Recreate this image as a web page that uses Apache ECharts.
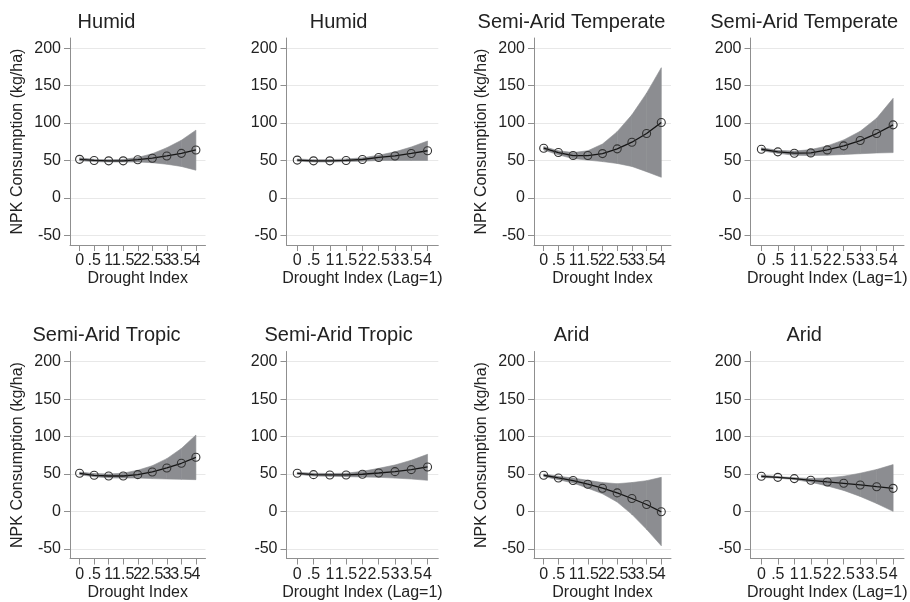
<!DOCTYPE html>
<html>
<head>
<meta charset="utf-8">
<script src="https://cdn.jsdelivr.net/npm/echarts@6/dist/echarts.min.js"></script>
<style>
  html, body { margin: 0; padding: 0; background: #fff; }
  #chart { width: 910px; height: 602px; }
</style>
</head>
<body>
<div id="chart"></div>
<script>
// drought index steps and tick labels
var xs = [0, 0.5, 1, 1.5, 2, 2.5, 3, 3.5, 4];
var xTickLabels = ['0', '.5', '1', '1.5', '2', '2.5', '3', '3.5', '4'];
var yTicks = [-50, 0, 50, 100, 150, 200];

var titles = ['Humid', 'Humid', 'Semi-Arid Temperate', 'Semi-Arid Temperate',
              'Semi-Arid Tropic', 'Semi-Arid Tropic', 'Arid', 'Arid'];
var xNames = ['Drought Index', 'Drought Index (Lag=1)'];
var yName = 'NPK Consumption (kg/ha)';

// predicted NPK consumption (point estimate) per panel
var mid1 = [51.5, 50, 49.5, 49.5, 51, 53, 56, 59.5, 64];
var mid2 = [50.5, 49.5, 49.5, 50, 51.3, 54, 56, 59.4, 63];
var mid3 = [66.4, 60.6, 56.6, 56.6, 59.2, 65.5, 74.4, 86, 100.7];
var mid4 = [65, 61.5, 59.7, 60.1, 64.1, 69.5, 76.6, 86, 97.6];
var mid5 = [50.9, 48.2, 47.3, 47.3, 49.1, 52.7, 58, 64.3, 72.3];
var mid6 = [50.9, 49.1, 48.7, 48.7, 49.6, 51.3, 53.1, 55.8, 59.4];
var mid7 = [48.3, 44.7, 41.2, 36.3, 31, 24.7, 17.2, 9.2, -0.6];
var mid8 = [46.9, 45.5, 43.8, 41.5, 39.3, 37.5, 35.3, 33, 30.8];

// confidence interval lower bounds
var lo1 = [49.5, 48.5, 48, 48, 48, 47, 45, 42, 37];
var lo2 = [49, 48, 48, 48.5, 49, 50, 50, 50, 50];
var lo3 = [64, 57.5, 52.5, 50.5, 48.5, 46, 42, 35, 27.5];
var lo4 = [63, 59.5, 57, 56.5, 57, 58, 59, 60, 60.5];
var lo5 = [49, 46.3, 44.8, 44.5, 44.5, 43.8, 43.3, 42.8, 42.4];
var lo6 = [49.6, 47.3, 46.9, 46.4, 46, 45.5, 44.5, 43.3, 41.5];
var lo7 = [46.5, 42.3, 38, 31, 23.5, 12.5, -4, -24, -46];
var lo8 = [45.3, 44.5, 42.5, 39, 34, 28, 20, 10.5, 0];

// confidence interval upper bounds
var hi1 = [53.5, 51.5, 51, 51.5, 54, 59, 67, 77, 90.5];
var hi2 = [52, 51, 51, 52, 53.5, 57, 61.5, 68, 76];
var hi3 = [68.5, 63, 60.5, 63, 72, 88.5, 111, 140, 174];
var hi4 = [67, 63.5, 62.5, 64.5, 69.5, 77.5, 89, 106.5, 133];
var hi5 = [52.5, 50.5, 50, 51, 55, 61, 70.5, 84, 102];
var hi6 = [52.2, 51, 50.5, 51, 53.5, 57.5, 62, 68.3, 76.3];
var hi7 = [50, 47, 44.5, 41.5, 38.5, 37, 38.5, 41, 45.5];
var hi8 = [48.5, 46.5, 45, 44, 44.5, 47, 51, 56, 62.5];

var mids = [mid1, mid2, mid3, mid4, mid5, mid6, mid7, mid8];
var los = [lo1, lo2, lo3, lo4, lo5, lo6, lo7, lo8];
var his = [hi1, hi2, hi3, hi4, hi5, hi6, hi7, hi8];

// labels are split over two axes so the overlapping ones are all drawn
var xWhole = xs.filter(function (v) { return v % 1 === 0; });
var xHalf = xs.filter(function (v) { return v % 1 !== 0; });

var font = '"Liberation Sans", Arial, Helvetica, sans-serif';
var axisColor = '#8f8f8f';
var textColor = '#222';
var bandColor = '#8c8d91';

var colLeft = [70, 286.5, 534, 750.5];
var colRight = [205.5, 438.3, 671, 904];
var titleX = [106.5, 338.6, 571.5, 804.2];
var rowTop = [38, 351.5];
var rowTitleY = [22.5, 335.5];
var plotH = 207;

var chart = echarts.init(document.getElementById('chart'));

var grids = [], xAxes = [], yAxes = [], series = [], graphics = [];

// one quad per segment of the confidence band
function renderBand(params, api) {
    var p0 = api.coord([api.value(0), api.value(1)]);
    var p1 = api.coord([api.value(3), api.value(4)]);
    var p2 = api.coord([api.value(3), api.value(5)]);
    var p3 = api.coord([api.value(0), api.value(2)]);
    return {
        type: 'polygon',
        shape: { points: [p0, p1, p2, p3] },
        style: { fill: bandColor, stroke: bandColor, lineWidth: 0.6 }
    };
}

function xLabelFmt(v) {
    return xTickLabels[xs.indexOf(v)];
}

for (var i = 0; i < 8; i++) {
    var col = i % 4, row = Math.floor(i / 4);
    grids.push({
        left: colLeft[col],
        top: rowTop[row],
        width: colRight[col] - colLeft[col],
        height: plotH
    });
    xAxes.push({
        type: 'value',
        gridIndex: i,
        position: 'bottom',
        min: -0.33,
        max: 4.33,
        name: xNames[col % 2],
        nameLocation: 'middle',
        nameGap: 26,
        nameTextStyle: { fontSize: 16, color: textColor, fontFamily: font },
        axisLine: { show: true, onZero: false, lineStyle: { color: axisColor, width: 1 } },
        axisTick: { show: true, length: 6, customValues: xs, lineStyle: { color: axisColor } },
        axisLabel: {
            customValues: xWhole,
            margin: 8,
            fontSize: 16,
            color: textColor,
            fontFamily: font,
            hideOverlap: false,
            showMinLabel: true,
            showMaxLabel: true,
            formatter: xLabelFmt
        },
        splitLine: { show: false }
    });
    xAxes.push({
        type: 'value',
        gridIndex: i,
        position: 'bottom',
        offset: 0,
        min: -0.33,
        max: 4.33,
        axisLine: { show: false, onZero: false },
        axisTick: { show: false },
        axisLabel: {
            customValues: xHalf,
            margin: 8,
            fontSize: 16,
            color: textColor,
            fontFamily: font,
            hideOverlap: false,
            showMinLabel: true,
            showMaxLabel: true,
            formatter: xLabelFmt
        },
        splitLine: { show: false }
    });
    yAxes.push({
        type: 'value',
        gridIndex: i,
        min: -63,
        max: 213.7,
        name: col % 2 === 0 ? yName : '',
        nameLocation: 'middle',
        nameGap: 44,
        nameTextStyle: { fontSize: 16, color: textColor, fontFamily: font },
        axisLine: { show: true, onZero: false, lineStyle: { color: axisColor, width: 1 } },
        axisTick: { show: true, length: 6, customValues: yTicks, lineStyle: { color: axisColor } },
        axisLabel: {
            customValues: yTicks,
            margin: 9,
            fontSize: 16,
            color: textColor,
            fontFamily: font,
            showMinLabel: true,
            showMaxLabel: true
        },
        splitLine: { show: true, lineStyle: { color: '#e8e8e8', width: 1 } }
    });

    var bandData = [], midData = [];
    for (var k = 0; k < xs.length; k++) {
        if (k < xs.length - 1) {
            bandData.push([xs[k], los[i][k], his[i][k], xs[k + 1], los[i][k + 1], his[i][k + 1]]);
        }
        midData.push([xs[k], mids[i][k]]);
    }
    series.push({
        type: 'custom',
        xAxisIndex: 2 * i, yAxisIndex: i,
        data: bandData,
        encode: { x: [0, 3], y: [1, 2, 4, 5] },
        renderItem: renderBand,
        silent: true,
        z: 2
    });
    series.push({
        type: 'line',
        xAxisIndex: 2 * i, yAxisIndex: i,
        data: midData,
        symbol: 'circle',
        symbolSize: 8,
        itemStyle: { color: 'rgba(0,0,0,0)', borderColor: '#333', borderWidth: 1.1 },
        lineStyle: { color: '#151515', width: 1.3 },
        z: 5
    });

    graphics.push({
        type: 'text',
        x: titleX[col],
        y: rowTitleY[row],
        style: {
            text: titles[i],
            font: '20px ' + font,
            fill: textColor,
            textAlign: 'center',
            textVerticalAlign: 'middle'
        }
    });
}

var option = {
    animation: false,
    backgroundColor: '#fff',
    grid: grids,
    xAxis: xAxes,
    yAxis: yAxes,
    series: series,
    graphic: graphics
};

chart.setOption(option);
</script>
</body>
</html>
